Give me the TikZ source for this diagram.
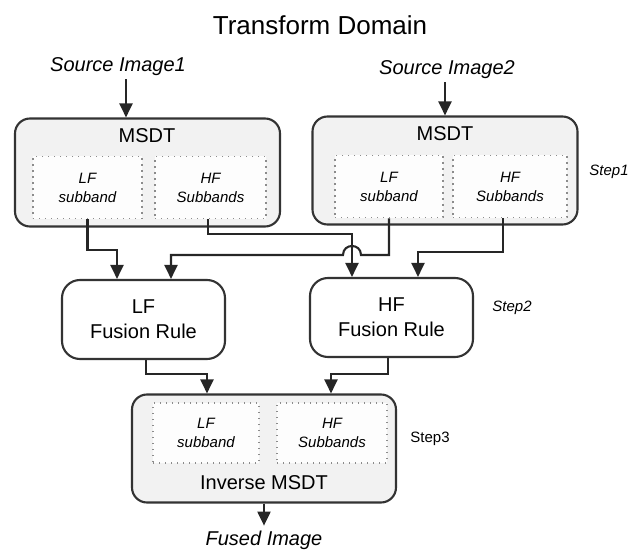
\documentclass[tikz,border=0pt]{standalone}
\usepackage{fontspec}
\setmainfont{Liberation Sans}
\usetikzlibrary{arrows.meta}

\begin{document}
\begin{tikzpicture}[x=1pt,y=-1pt,
  line width=2.1pt,
  arr/.style={draw=black!85,-{Triangle[width=13pt,length=14pt]}},
  msdtbox/.style={draw=black!80,fill=black!5,rounded corners=15pt,minimum height=108pt,minimum width=265pt,inner sep=0pt},
  subbox/.style={draw=black!45,fill=white!60!black!2,line width=1.8pt,dash pattern=on 1.4pt off 4.6pt,minimum height=62pt,inner sep=0pt,
    align=center,font=\itshape\fontsize{15}{19}\selectfont},
  rulebox/.style={draw=black!80,fill=white,rounded corners=18pt,minimum width=163pt,minimum height=79pt,inner sep=0pt,
    align=center,font=\fontsize{20}{25}\selectfont},
  big/.style={font=\fontsize{20}{24}\selectfont,inner sep=0pt},
  src/.style={font=\itshape\fontsize{20}{24}\selectfont,inner sep=2pt},
  steplbl/.style={font=\itshape\fontsize{15}{18}\selectfont}]
\useasboundingbox (0,0) rectangle (633,551);

\node (TITLE) at (320,25) {\fontsize{26}{30}\selectfont Transform Domain};
\node[src] (SRCA) at (118,67) {Source Image1};
\node[src] (SRCB) at (447,70) {Source Image2};

\node[msdtbox] (MSDTA) at (147.5,172.5) {};
\node[msdtbox] (MSDTB) at (445,170.5) {};
\node[big] at (147,136) {MSDT};
\node[big] at (445,134) {MSDT};
\node[subbox,minimum width=109pt] (LFA) at (87.5,187.5) {LF\\subband};
\node[subbox,minimum width=111pt] (HFA) at (210.5,187.5) {HF\\Subbands};
\node[subbox,minimum width=108pt] (LFB) at (389,186.5) {LF\\subband};
\node[subbox,minimum width=114pt] (HFB) at (510,186.5) {HF\\Subbands};
\node[steplbl] (STEPA) at (609,172) {Step1};

\node[rulebox] (LFR) at (143.5,319.5) {LF\\Fusion Rule};
\node[rulebox] (HFR) at (391.5,317.5) {HF\\Fusion Rule};
\node[steplbl] (STEPB) at (512,308) {Step2};

\node[msdtbox,minimum width=264pt] (INV) at (264,448.5) {};
\node[subbox,minimum width=106pt,minimum height=60pt] (LFC) at (206,433) {LF\\subband};
\node[subbox,minimum width=110pt,minimum height=60pt] (HFC) at (332,433) {HF\\Subbands};
\node[big] at (264,483) {Inverse MSDT};
\node[font=\fontsize{15}{18}\selectfont] (STEPC) at (430,439) {Step3};
\node[src] (FUSED) at (264,540) {Fused Image};

\draw[arr] ([xshift=8pt]SRCA.south) -- ([xshift=8pt]SRCA.south |- MSDTA.north);
\draw[arr] ([xshift=-2pt]SRCB.south) -- ([xshift=-2pt]SRCB.south |- MSDTB.north);
\draw[arr] (LFA.south) -- ++(0,31) -| ([xshift=-26.5pt]LFR.north);
\draw[arr] ([xshift=-2.5pt]HFA.south) -- ++(0,15) -| ([xshift=-39.5pt]HFR.north);
\draw[arr] (LFB.south) |- (361,255) .. controls (361,243) and (343,243) .. (343,255) -| ([xshift=27.5pt]LFR.north);
\draw[arr] ([xshift=-7pt]HFB.south) -- ++(0,34) -| ([xshift=26.5pt]HFR.north);
\draw[arr] ([xshift=2.5pt]LFR.south) -- ++(0,14) -| ([xshift=-57pt]INV.north);
\draw[arr] ([xshift=-3.5pt]HFR.south) -- ++(0,16) -| ([xshift=67pt]INV.north);
\draw[arr,shorten >=2pt] (INV.south) -- (FUSED.north);
\end{tikzpicture}
\end{document}
